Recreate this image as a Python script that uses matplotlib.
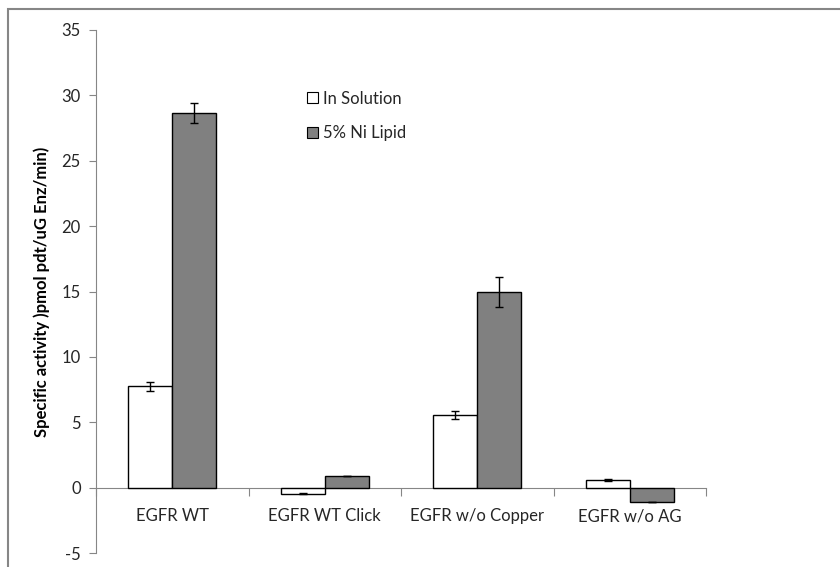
import matplotlib
matplotlib.use('Agg')
import matplotlib.pyplot as plt
import matplotlib.patches as mpatches
import numpy as np

categories = ['EGFR WT', 'EGFR WT Click', 'EGFR w/o Copper', 'EGFR w/o AG']
in_solution = [7.75, -0.47, 5.58, 0.58]
in_solution_err = [0.35, 0.05, 0.3, 0.05]
ni_lipid = [28.65, 0.89, 14.97, -1.13]
ni_lipid_err = [0.75, 0.0, 1.15, 0.0]

plt.rcParams['font.family'] = ['Lato', 'DejaVu Sans']
plt.rcParams['axes.unicode_minus'] = False

fig = plt.figure(figsize=(8.4, 5.67), dpi=100)
ax = fig.add_axes([96/840, 1-553/567, 610/840, 523/567])

x = np.arange(len(categories))
w = 0.29
axis_grey = '#868686'
text_col = '#262626'

ax.bar(x - w/2, in_solution, w, color='white', edgecolor='black', linewidth=1, zorder=3,
       yerr=in_solution_err, capsize=3, error_kw=dict(elinewidth=1, capthick=1, ecolor='black'))
ax.bar(x + w/2, ni_lipid, w, color='#808080', edgecolor='black', linewidth=1, zorder=3,
       yerr=ni_lipid_err, capsize=3, error_kw=dict(elinewidth=1, capthick=1, ecolor='black'))

ax.set_xlim(-0.5, 3.5)
ax.set_ylim(-5, 35)
ax.set_yticks(range(-5, 36, 5))

for s in ['top', 'right']:
    ax.spines[s].set_visible(False)
ax.spines['bottom'].set_position(('data', 0))
ax.spines['bottom'].set_color(axis_grey)
ax.spines['left'].set_color(axis_grey)
ax.spines['bottom'].set_zorder(2)

# ticks at category boundaries, labels in between
ax.set_xticks([-0.5, 0.5, 1.5, 2.5, 3.5])
ax.set_xticklabels([])
ax.set_xticks(x, minor=True)
ax.set_xticklabels(categories, minor=True)
ax.tick_params(axis='x', which='major', direction='out', length=6, color=axis_grey)
ax.tick_params(axis='x', which='minor', length=0, pad=15, labelsize=12, labelcolor=text_col)
ax.tick_params(axis='y', direction='out', length=5, color=axis_grey, labelsize=12,
               labelcolor=text_col, pad=6)

ax.set_ylabel('Specific activity )pmol pdt/uG Enz/min)', fontsize=12, fontweight='bold',
              color='black')
ax.yaxis.set_label_coords(-46/610, 1 - (292-30)/523)

handles = [mpatches.Patch(facecolor='white', edgecolor='black', linewidth=0.8, label='In Solution'),
           mpatches.Patch(facecolor='#808080', edgecolor='black', linewidth=0.8, label='5% Ni Lipid')]
leg = ax.legend(handles=handles, loc='upper left', bbox_to_anchor=(300/840, 1-84/567),
                bbox_transform=fig.transFigure, frameon=False, fontsize=12,
                handlelength=0.65, handleheight=0.65, handletextpad=0.35, labelspacing=1.1,
                borderaxespad=0)
for t in leg.get_texts():
    t.set_color(text_col)

# chart area border (cropped at right and bottom)
border = mpatches.Rectangle((7.5/840, -0.1), 1.2, 1 - 9/567 + 0.1, transform=fig.transFigure,
                            fill=False, edgecolor=axis_grey, linewidth=1.5, clip_on=False)
fig.patches.append(border)

fig.savefig('out.png', dpi=100)
